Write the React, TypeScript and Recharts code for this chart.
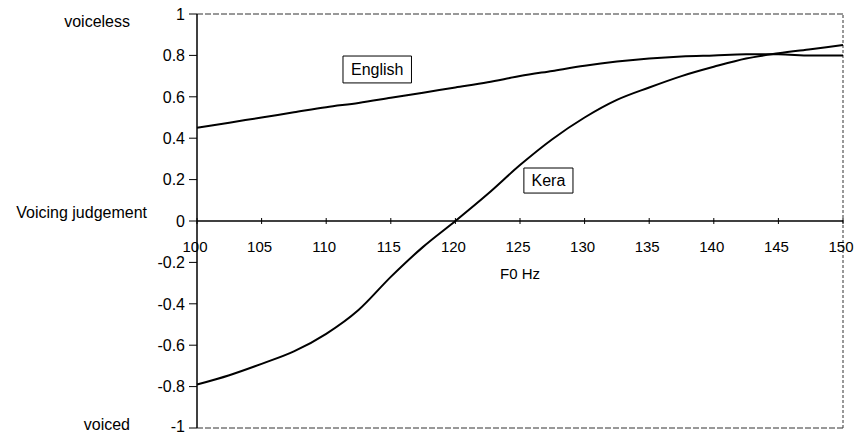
import React from 'react';
import { LineChart, Line, XAxis, YAxis, ReferenceLine, ReferenceArea } from 'recharts';

// F0 steps (Hz) and voicing judgement per language
const F0 = [100, 102.5, 105, 107.5, 110, 112.5, 115, 117.5, 120, 122.5, 125, 127.5, 130, 132.5, 135, 137.5, 140, 142.5, 145, 147.5, 150];
const ENGLISH = [0.45, 0.475, 0.5, 0.525, 0.55, 0.57, 0.595, 0.62, 0.645, 0.67, 0.7, 0.725, 0.75, 0.77, 0.785, 0.795, 0.8, 0.805, 0.805, 0.8, 0.8];
const KERA = [-0.79, -0.745, -0.69, -0.63, -0.545, -0.43, -0.27, -0.125, 0, 0.13, 0.27, 0.395, 0.5, 0.585, 0.645, 0.7, 0.745, 0.785, 0.81, 0.83, 0.85];

const X_TICKS = [100, 105, 110, 115, 120, 125, 130, 135, 140, 145, 150];
const Y_TICKS = [-1, -0.8, -0.6, -0.4, -0.2, 0, 0.2, 0.4, 0.6, 0.8, 1];
const SIDE_LABELS: Record<string, string> = { '1': 'voiceless', '0': 'Voicing judgement', '-1': 'voiced' };

const data = F0.map((f, i) => ({ f0: f, english: ENGLISH[i], kera: KERA[i] }));

const W = 858;
const H = 434;
const X_AXIS_H = 20;
// bottom margin is negative so the (invisible) x axis band doesn't eat into the plot
const MARGIN = { top: 14, right: 15, bottom: 6 - X_AXIS_H, left: 0 };
const PLOT_H = H - MARGIN.top - 6;
const FONT = '"Liberation Sans", Arial, sans-serif';

// side captions sit left of the tick numbers
const sidePos: Record<string, { x: number; dy: number }> = {
    '1': { x: -55, dy: 13 },
    '0': { x: -38, dy: -3 },
    '-1': { x: -55, dy: 2 },
};

function YTick(props: any) {
    const { x, y, payload } = props;
    const key = String(payload.value);
    const side = SIDE_LABELS[key];
    return (
        <g>
            <text x={x} y={y} dy={key === '-1' ? '0.25em' : '0.36em'} textAnchor="end" fontSize={16} fill="#000" fontFamily={FONT}>
                {key}
            </text>
            {side && (
                <text x={x + sidePos[key].x} y={y} dy={sidePos[key].dy} textAnchor="end" fontSize={16} fill="#000" fontFamily={FONT}>
                    {side}
                </text>
            )}
        </g>
    );
}

// x axis crosses at y = 0, i.e. half way up the plot
function XTick(props: any) {
    const { x, y, payload } = props;
    const zy = y - PLOT_H / 2;
    return (
        <g>
            <line x1={x} x2={x} y1={zy - 3} y2={zy + 3} stroke="#000" strokeWidth={1} />
            <text x={x - 2} y={zy + 31} textAnchor="middle" fontSize={15} fill="#000" fontFamily={FONT}>
                {payload.value}
            </text>
        </g>
    );
}

export default function App() {
    return (
        <div style={{ position: 'absolute', left: 0, top: 0, width: W, height: H, background: '#fff', fontFamily: FONT }}>
            <LineChart width={W} height={H} data={data} margin={MARGIN}>
                <XAxis
                    dataKey="f0"
                    type="number"
                    domain={[100, 150]}
                    ticks={X_TICKS}
                    height={X_AXIS_H}
                    axisLine={false}
                    tickLine={false}
                    tickSize={0}
                    tickMargin={0}
                    tick={<XTick />}
                    interval={0}
                />
                <YAxis
                    type="number"
                    domain={[-1, 1]}
                    ticks={Y_TICKS}
                    width={197}
                    interval={0}
                    axisLine={{ stroke: '#000', strokeWidth: 1.5 }}
                    tickLine={{ stroke: '#000', strokeWidth: 1 }}
                    tickSize={8}
                    tickMargin={4}
                    tick={<YTick />}
                />
                <ReferenceLine y={1} stroke="#333" strokeDasharray="6 2" />
                <ReferenceLine y={-1} stroke="#333" strokeDasharray="6 2" />
                <ReferenceLine x={150} stroke="#333" strokeDasharray="3 2" />
                <ReferenceLine
                    y={0}
                    stroke="#000"
                    strokeWidth={1.5}
                    label={{ value: 'F0 Hz', position: 'bottom', offset: 47, fill: '#000', fontSize: 15, fontFamily: FONT }}
                />
                <Line type="monotone" dataKey="english" stroke="#000" strokeWidth={2} dot={false} isAnimationActive={false} />
                <Line type="monotone" dataKey="kera" stroke="#000" strokeWidth={2} dot={false} isAnimationActive={false} />
                <ReferenceArea
                    x1={111.3}
                    x2={116.6}
                    y1={0.667}
                    y2={0.797}
                    fill="#fff"
                    fillOpacity={1}
                    stroke="#000"
                    strokeWidth={1}
                    label={{ value: 'English', position: 'center', fill: '#000', fontSize: 16, fontFamily: FONT }}
                />
                <ReferenceArea
                    x1={125.3}
                    x2={129.1}
                    y1={0.135}
                    y2={0.256}
                    fill="#fff"
                    fillOpacity={1}
                    stroke="#000"
                    strokeWidth={1}
                    label={{ value: 'Kera', position: 'center', fill: '#000', fontSize: 16, fontFamily: FONT }}
                />
            </LineChart>
        </div>
    );
}
